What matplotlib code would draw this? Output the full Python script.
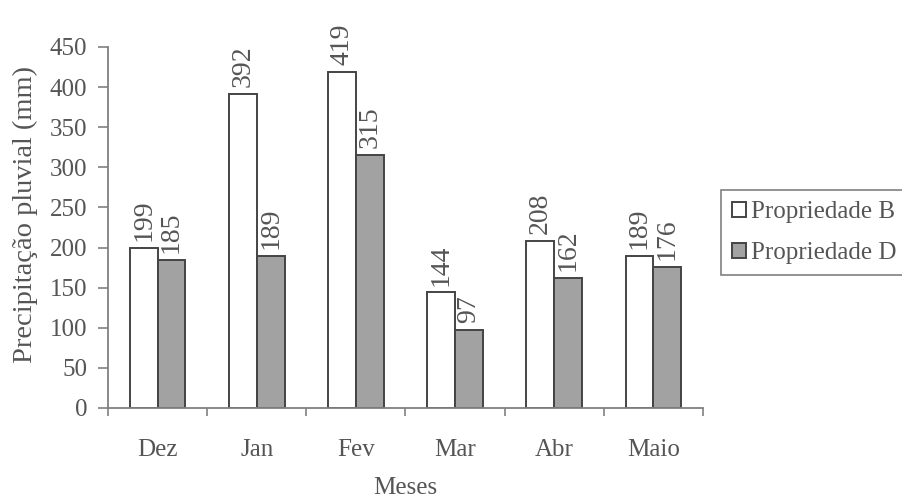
import numpy as np
import matplotlib.pyplot as plt
from matplotlib.ticker import FixedLocator

plt.rcParams['font.family'] = ['Liberation Serif', 'DejaVu Serif']

# Dados de precipitação mensal (mm)
meses = ['Dez', 'Jan', 'Fev', 'Mar', 'Abr', 'Maio']
prop_b = [199, 392, 419, 144, 208, 189]
prop_d = [185, 189, 315, 97, 162, 176]

texto = '#555555'
eixo = '#808080'
borda = '#444444'
cinza = '#a2a2a2'

fig = plt.figure(figsize=(9.03, 5.01), dpi=100)
ax = fig.add_axes([108 / 903, 1 - 408 / 501, (703 - 108) / 903, (408 - 47) / 501])

x = np.arange(len(meses))
w = 0.28
barras_b = ax.bar(x - w / 2, prop_b, w, color='white', edgecolor=borda,
                  linewidth=1.4, label='Propriedade B')
barras_d = ax.bar(x + w / 2, prop_d, w, color=cinza, edgecolor=borda,
                  linewidth=1.4, label='Propriedade D')

# Valores sobre as barras, na vertical
for barras, vals in ((barras_b, prop_b), (barras_d, prop_d)):
    for b, v in zip(barras, vals):
        ax.annotate(str(v), (b.get_x() + b.get_width() / 2, v),
                    xytext=(0, 5), textcoords='offset points',
                    rotation=90, ha='center', va='bottom',
                    fontsize=20, color=texto)

ax.set_xlim(-0.5, len(meses) - 0.5)
ax.set_ylim(0, 450)
ax.set_yticks(np.arange(0, 451, 50))
ax.set_xticks(x)
ax.set_xticklabels(meses)
ax.xaxis.set_minor_locator(FixedLocator(np.arange(-0.5, len(meses), 1.0)))
ax.tick_params(axis='x', which='major', length=0, pad=22, labelsize=18, labelcolor=texto)
ax.tick_params(axis='x', which='minor', length=6, width=1.2, color=eixo, direction='out')
ax.tick_params(axis='y', length=7, width=1.2, color=eixo, pad=8, labelsize=18, labelcolor=texto)

for lado in ('top', 'right'):
    ax.spines[lado].set_visible(False)
for lado in ('left', 'bottom'):
    ax.spines[lado].set_color(eixo)
    ax.spines[lado].set_linewidth(1.3)

ax.set_xlabel('Meses', fontsize=18, color=texto, labelpad=12)
ax.set_ylabel('Precipitação pluvial (mm)', fontsize=20.5, color=texto)
ax.yaxis.set_label_coords(38 / 903, 0.572, transform=fig.transFigure)

leg = fig.legend(handles=[barras_b, barras_d], loc='upper left',
                 bbox_to_anchor=(721 / 903, 1 - 190 / 501), borderaxespad=0,
                 fontsize=18, handlelength=0.55, handleheight=0.55,
                 handletextpad=0.2, borderpad=0.45, labelspacing=0.75,
                 fancybox=False, framealpha=1)
leg.get_frame().set_edgecolor(eixo)
leg.get_frame().set_linewidth(1.2)
for t in leg.get_texts():
    t.set_color(texto)

fig.savefig('out.png', dpi=100)
